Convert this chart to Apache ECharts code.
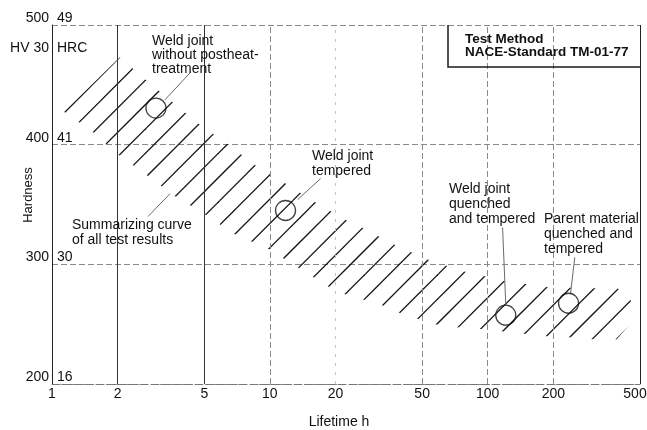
<!DOCTYPE html>
<html>
<head>
<meta charset="utf-8">
<script src="https://cdn.jsdelivr.net/npm/echarts@6/dist/echarts.min.js"></script>
<style>
  html, body { margin: 0; padding: 0; background: #fff; }
  #chart { width: 647px; height: 430px; }
</style>
</head>
<body>
<div id="chart"></div>
<script>
// Axis ticks: lifetime in hours (log scale), hardness HV 30 with matching HRC values
const lifetimeTicks = [1, 2, 5, 10, 20, 50, 100, 200, 500];
const hardnessTicks = [200, 300, 400, 500];
const hrcLabels = ['16', '30', '41', '49'];

// Scatter band summarizing all test results: [lifetime h, HV 30]
const bandUpper = [
  [2.05, 473], [2.7, 454], [3.55, 436], [4.67, 418], [6.35, 401], [8.54, 383],
  [11.7, 368], [16.1, 352], [22.1, 337.5], [26.4, 331], [36.7, 317], [53, 304],
  [78, 294], [120, 286], [186, 281], [303, 280], [395, 280]
];
const bandRightEnd = [[458, 269], [455, 251]];
const bandLower = [
  [1.135, 427.5], [1.53, 411], [1.99, 392.5], [2.7, 375], [3.59, 358], [4.93, 343],
  [6.76, 326], [9.8, 313], [13.3, 298], [18.5, 281.5], [22.1, 275], [26.4, 271],
  [32, 266.7], [38.6, 260], [57, 250], [72, 247.5], [92, 246], [116, 244],
  [145, 242], [186, 240], [237, 239], [303, 237.5], [391, 237.5]
];

// Specimen groups
const specimenLifetime = [3.0, 11.8, 121, 235];
const specimenHardness = [430.6, 345, 257.5, 267.5];

// Leader lines from the annotations to the specimen circles / band
const leaderLines = [
  [[3.30, 437.5], [4.34, 460.8]],
  [[13.4, 354], [17.1, 371.7]],
  [[121, 266.7], [117, 330.8]],
  [[240, 275.8], [251, 305.8]],
  [[2.76, 340], [3.48, 359]]
];

const FONT = "'Liberation Sans', Arial, Helvetica, sans-serif";
const INK = '#111';

// 45 degree hatch used to fill the scatter band (three lines per 73 px tile)
function makeHatch() {
  const size = 73, step = size / 3, phase = 6.7;
  const c = document.createElement('canvas');
  c.width = size; c.height = size;
  const g = c.getContext('2d');
  g.strokeStyle = '#141414';
  g.lineWidth = 1.3;
  for (let k = -1; k <= 6; k++) {
    const s = phase + k * step;
    g.beginPath();
    g.moveTo(-3, s + 3);
    g.lineTo(s + 3, -3);
    g.stroke();
  }
  return c;
}
const hatchFill = { image: makeHatch(), repeat: 'repeat' };

const bandPolygon = bandUpper.concat(bandRightEnd, bandLower.slice().reverse());

function gridStyle(v) {
  if (v === 1) return { color: 'rgba(0,0,0,0)', width: 0 };
  if (v === 2 || v === 5) return { color: '#333', type: 'solid', width: 1 };
  if (v === 500) return { color: '#222', type: 'solid', width: 1 };
  if (v === 20) return { color: '#c4c4c4', type: [3, 6], width: 1 };
  return { color: '#8a8a8a', type: [6, 3], width: 1 };
}

function textBlock(x, y, text, opts) {
  opts = opts || {};
  return {
    type: 'text', x: x, y: y, silent: true, z: 10,
    rotation: opts.rotation || 0,
    style: {
      text: text,
      fill: INK,
      font: (opts.bold ? 'bold ' : '') + (opts.size || 14) + 'px ' + FONT,
      lineHeight: opts.lh || 15,
      align: opts.align || 'left', textAlign: opts.align || 'left',
      verticalAlign: opts.va || 'top', textVerticalAlign: opts.va || 'top'
    }
  };
}

const chart = echarts.init(document.getElementById('chart'), null, { renderer: 'canvas' });

chart.setOption({
  animation: false,
  backgroundColor: '#fff',
  grid: { left: 52, right: 7, top: 25, bottom: 46 },
  xAxis: {
    type: 'log', logBase: 10, min: 1, max: 500,
    axisLine: { show: true, lineStyle: { color: '#777', type: [8, 3], width: 1 } },
    axisTick: { show: false },
    axisLabel: { show: false },
    splitLine: { show: false }
  },
  yAxis: [
    {
      type: 'value', min: 200, max: 500, interval: 100, position: 'left',
      axisLine: { show: true, lineStyle: { color: '#222', width: 1 } },
      axisTick: { show: false },
      axisLabel: {
        margin: 3, fontSize: 14, color: INK, fontFamily: FONT,
        align: 'right', verticalAlign: 'bottom'
      },
      splitLine: { show: true, lineStyle: { color: '#8a8a8a', type: [6, 3], width: 1 } }
    },
    {
      type: 'value', min: 200, max: 500, interval: 100, position: 'left', offset: 0,
      axisLine: { show: false },
      axisTick: { show: false },
      splitLine: { show: false },
      axisLabel: {
        inside: true, margin: 5, fontSize: 14, color: INK, fontFamily: FONT,
        align: 'left', verticalAlign: 'bottom',
        formatter: function (v) { return hrcLabels[hardnessTicks.indexOf(v)] || ''; }
      }
    }
  ],
  series: [
    {
      type: 'custom',
      coordinateSystem: 'cartesian2d',
      silent: true,
      z: 1,
      data: [bandPolygon[0]],
      renderItem: function (params, api) {
        const pts = bandPolygon.map(function (p) { return api.coord(p); });
        return {
          type: 'polygon',
          shape: { points: pts },
          style: { fill: hatchFill, stroke: null }
        };
      }
    },
    {
      type: 'lines',
      coordinateSystem: 'cartesian2d',
      silent: true,
      z: 3,
      lineStyle: { color: '#6a6a6a', width: 1, opacity: 1 },
      data: leaderLines.map(function (l) { return { coords: l }; })
    },
    {
      type: 'scatter',
      silent: true,
      z: 4,
      symbol: 'circle',
      symbolSize: 20,
      itemStyle: { color: 'rgba(255,255,255,0)', borderColor: '#111', borderWidth: 1.3 },
      data: specimenLifetime.map(function (t, i) { return [t, specimenHardness[i]]; }),
      markLine: {
        silent: true,
        symbol: ['none', 'none'],
        animation: false,
        label: {
          show: true, position: 'start', distance: 3,
          fontSize: 14, color: INK, fontFamily: FONT,
          formatter: function (p) { return String(p.value); }
        },
        data: lifetimeTicks.map(function (v) {
          const item = { xAxis: v, lineStyle: gridStyle(v) };
          if (v === lifetimeTicks[lifetimeTicks.length - 1]) item.label = { offset: [-5, 0] };
          return item;
        })
      }
    }
  ],
  graphic: [
    // Test method box
    {
      type: 'polyline', silent: true, z: 9,
      shape: { points: [[448, 25], [448, 67], [640, 67]] },
      style: { stroke: '#1a1a1a', lineWidth: 1.5, fill: null }
    },
    textBlock(465, 32.5, 'Test Method\nNACE-Standard TM-01-77', { bold: true, size: 13.5, lh: 13 }),
    // Axis headings
    textBlock(49, 48, 'HV 30', { size: 14, align: 'right', va: 'middle' }),
    textBlock(57, 48, 'HRC', { size: 14, va: 'middle' }),
    textBlock(28, 195, 'Hardness', { size: 13, align: 'center', va: 'middle', rotation: Math.PI / 2 }),
    textBlock(339, 422, 'Lifetime h', { size: 14, align: 'center', va: 'middle' }),
    // Annotations
    textBlock(152, 34, 'Weld joint\nwithout postheat-\ntreatment', { lh: 14 }),
    textBlock(312, 148.5, 'Weld joint\ntempered'),
    textBlock(72, 217.5, 'Summarizing curve\nof all test results'),
    textBlock(449, 181.5, 'Weld joint\nquenched\nand tempered'),
    textBlock(544, 211.5, 'Parent material\nquenched and\ntempered')
  ]
});
</script>
</body>
</html>
